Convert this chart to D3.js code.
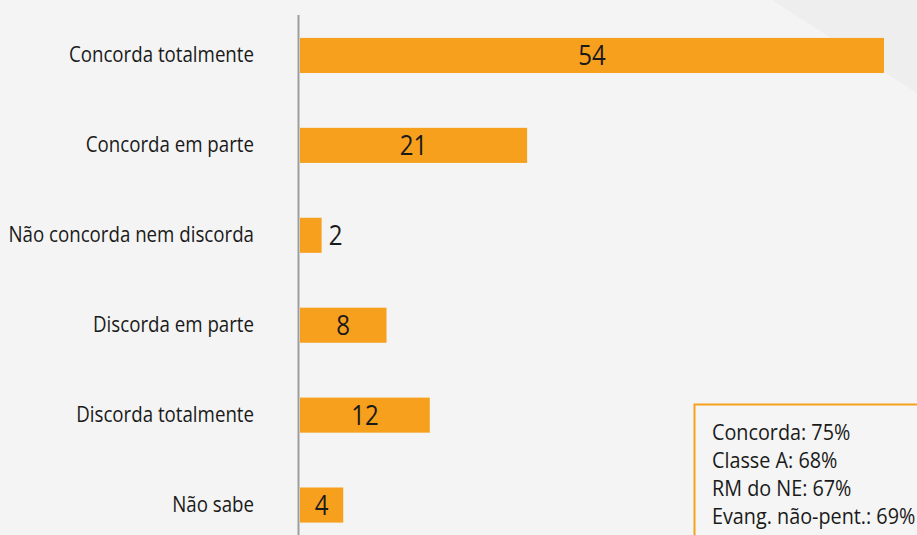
<!DOCTYPE html>
<html>
<head>
<meta charset="utf-8">
<script src="https://cdn.jsdelivr.net/npm/d3@7"></script>
<style>
  html, body { margin: 0; padding: 0; background: #f4f4f4; }
  svg { display: block; }
  text { font-family: "Open Sans", "Noto Sans", sans-serif; fill: #1a1a1a; }
</style>
</head>
<body>
<svg id="chart" width="917" height="535"></svg>
<script>
const categories = ["Concorda totalmente", "Concorda em parte", "Não concorda nem discorda", "Discorda em parte", "Discorda totalmente", "Não sabe"];
const values = [54, 21, 2, 8, 12, 4];
const noteLines = ["Concorda: 75%", "Classe A: 68%", "RM do NE: 67%", "Evang. não-pent.: 69%"];

const W = 917, H = 535;
const svg = d3.select("#chart");

// background
svg.append("rect").attr("width", W).attr("height", H).attr("fill", "#f4f4f4");
svg.append("path").attr("d", `M772,0 L${W},0 L${W},93 Z`).attr("fill", "#eeeeee");

const x = d3.scaleLinear().domain([0, 54]).range([300, 884]);
const y = d3.scaleBand().domain(categories).range([10.5, 550]).paddingInner(0.61).paddingOuter(0.305);

// bars
svg.append("g").selectAll("rect").data(categories).join("rect")
  .attr("x", x(0))
  .attr("y", d => y(d))
  .attr("width", (d, i) => x(values[i]) - x(0))
  .attr("height", y.bandwidth())
  .attr("fill", "#f7a01e");

// axis line
svg.append("line").attr("x1", 298.5).attr("x2", 298.5).attr("y1", 15).attr("y2", H)
  .attr("stroke", "#9e9e9e").attr("stroke-width", 2);

function stext(g, tx, ty, txt, size, sx, anchor) {
  return g.append("text")
    .attr("transform", `translate(${tx},${ty}) scale(${sx},1)`)
    .attr("text-anchor", anchor)
    .style("font-size", size + "px")
    .text(txt);
}

// category labels
const lab = svg.append("g");
categories.forEach(c => {
  stext(lab, 254, y(c) + y.bandwidth() / 2 + 7, c, 22, 0.85, "end");
});

// value labels
const vl = svg.append("g");
categories.forEach((c, i) => {
  const v = values[i];
  const w = x(v) - x(0);
  const cy = y(c) + y.bandwidth() / 2 + 10;
  if (w < 25) {
    stext(vl, x(v) + 7, cy, String(v), 28, 0.86, "start");
  } else {
    stext(vl, (x(0) + x(v)) / 2, cy, String(v), 28, 0.86, "middle");
  }
});

// note box
svg.append("rect").attr("x", 694.5).attr("y", 404.5).attr("width", 240).attr("height", 150)
  .attr("fill", "#f5f5f5").attr("stroke", "#f7a01e").attr("stroke-width", 2);
const nb = svg.append("g");
noteLines.forEach((t, i) => {
  stext(nb, 712, 440 + i * 28, t, 22, 0.9, "start");
});
</script>
</body>
</html>
